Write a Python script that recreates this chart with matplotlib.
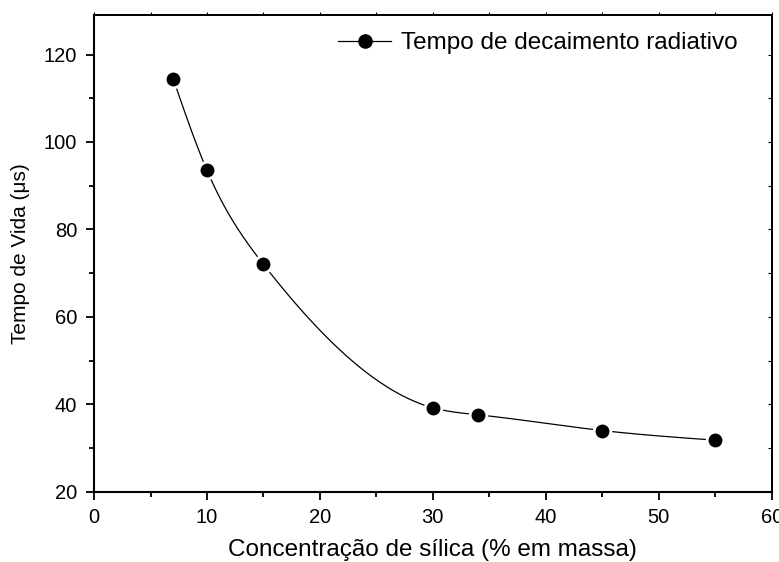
import numpy as np
import matplotlib
matplotlib.use("Agg")
import matplotlib.pyplot as plt
from matplotlib.ticker import MultipleLocator

plt.rcParams['font.family'] = ['Liberation Sans', 'DejaVu Sans']

# silica concentration (% mass) and radiative decay time (us)
silica = [7, 10, 15, 30, 34, 45, 55]
lifetime = [114.5, 93.5, 72.0, 39.2, 37.6, 34.0, 31.8]


def natural_spline(x, y, n=400):
    # natural cubic spline used for the smooth connecting line
    x = np.asarray(x, float)
    y = np.asarray(y, float)
    h = np.diff(x)
    m = len(x)
    A = np.zeros((m, m))
    b = np.zeros(m)
    A[0, 0] = A[-1, -1] = 1
    for i in range(1, m - 1):
        A[i, i - 1] = h[i - 1]
        A[i, i] = 2 * (h[i - 1] + h[i])
        A[i, i + 1] = h[i]
        b[i] = 6 * ((y[i + 1] - y[i]) / h[i] - (y[i] - y[i - 1]) / h[i - 1])
    M = np.linalg.solve(A, b)
    xs = np.linspace(x[0], x[-1], n)
    idx = np.clip(np.searchsorted(x, xs) - 1, 0, m - 2)
    x0, x1 = x[idx], x[idx + 1]
    hh = x1 - x0
    ys = (M[idx] * (x1 - xs) ** 3 / (6 * hh) + M[idx + 1] * (xs - x0) ** 3 / (6 * hh)
          + (y[idx] / hh - M[idx] * hh / 6) * (x1 - xs)
          + (y[idx + 1] / hh - M[idx + 1] * hh / 6) * (xs - x0))
    return xs, ys


fig = plt.figure(figsize=(7.79, 5.62), dpi=100)
ax = fig.add_axes([0.1207, 0.125, 0.870, 0.848])

xs, ys = natural_spline(silica, lifetime)
ax.plot(xs, ys, color='black', lw=0.9, zorder=2)
# white halo leaves a small gap in the line around each marker
ax.plot(silica, lifetime, 'o', color='black', ms=10, mec='white', mew=4, zorder=3)
ax.plot(silica, lifetime, 'o', color='black', ms=10, mew=0, zorder=4)

# legend handle: line with marker
handle, = ax.plot([], [], '-o', color='black', lw=0.9, ms=9.5, label='Tempo de decaimento radiativo')
ax.legend(handles=[handle], loc='upper right', frameon=False, fontsize=17.5,
          handlelength=2.2, handletextpad=0.4, borderaxespad=0.3,
          bbox_to_anchor=(0.975, 1.0))

ax.set_xlim(0, 60)
ax.set_ylim(20, 129)
ax.xaxis.set_major_locator(MultipleLocator(10))
ax.xaxis.set_minor_locator(MultipleLocator(5))
ax.yaxis.set_major_locator(MultipleLocator(20))
ax.yaxis.set_minor_locator(MultipleLocator(10))

ax.tick_params(which='both', direction='out', width=1.3, labelsize=14.5)
ax.tick_params(which='major', length=6, pad=6)
ax.tick_params(which='minor', length=3.5)
ax.tick_params(axis='x', which='both', top=False)
ax.tick_params(axis='y', which='both', right=False)
for side in ('top', 'right'):
    ax.spines[side].set_linewidth(1.3)
for side in ('left', 'bottom'):
    ax.spines[side].set_linewidth(1.5)

# small ticks on the unlabeled top/right axes
ax2 = ax.secondary_xaxis('top')
ax2.xaxis.set_major_locator(MultipleLocator(5))
ax2.tick_params(direction='out', length=2, width=0.8, labeltop=False)
ax2.spines['top'].set_linewidth(1.3)
ax3 = ax.secondary_yaxis('right')
ax3.yaxis.set_major_locator(MultipleLocator(10))
ax3.tick_params(direction='in', length=3, width=0.8, labelright=False)
ax3.spines['right'].set_linewidth(1.3)

ax.set_xlabel('Concentração de sílica (% em massa)', fontsize=17.5, labelpad=8)
ax.set_ylabel('Tempo de Vida (\u03bcs)', fontsize=15, labelpad=10)

fig.savefig('out.png', dpi=100)
